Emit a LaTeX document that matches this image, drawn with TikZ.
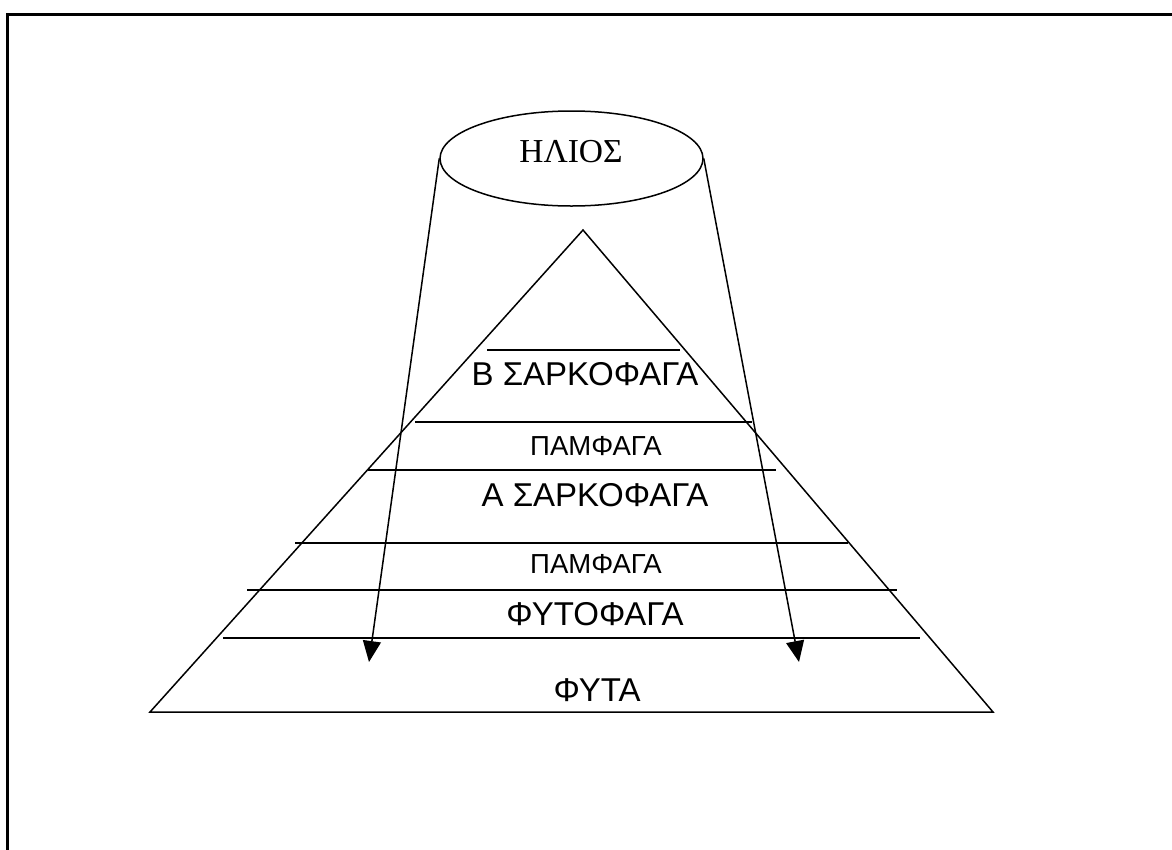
\documentclass[tikz,border=0pt]{standalone}
\usepackage{fontspec}
\setmainfont{Liberation Sans}
\newfontfamily\serifgr{Liberation Serif}
\usetikzlibrary{shapes.geometric,arrows.meta}
\tikzset{
  thin line/.style={line width=1.5pt, black},
  level line/.style={line width=1.6pt, black},
  bigtxt/.style={inner sep=0pt, font=\fontsize{33}{33}\selectfont},
  smalltxt/.style={inner sep=0pt, font=\fontsize{27.5}{27.5}\selectfont},
  ray/.style={line width=1.5pt, -{Triangle[length=21pt,width=18pt]}},
}
\begin{document}
\begin{tikzpicture}[x=1pt,y=-1pt]
\useasboundingbox (0,0) rectangle (1172,849);
\clip (0,0) rectangle (1172,849);
\fill[white] (0,0) rectangle (1172,849);
% frame
\draw[line width=2.4pt] (7.5,880) -- (7.5,14.5) -- (1200,14.5);
% pyramid
\coordinate (apex) at (583,230);
\coordinate (bl) at (150,712);
\coordinate (br) at (993,712);
\draw[thin line, line join=miter] (apex) -- (bl) -- (br) -- cycle;
% level lines
\draw[level line] (487,350) -- (680,350);
\draw[level line] (415,422) -- (752,422);
\draw[level line] (368,470) -- (776,470);
\draw[level line] (295,543) -- (848,543);
\draw[level line] (247,590) -- (897,590);
\draw[level line] (223,638) -- (920,638);
% sun
\node[ellipse, draw, line width=1.5pt, fill=white, minimum width=263pt, minimum height=95pt, inner sep=0pt] (sun) at (571.5,158.5) {};
\node[inner sep=0pt, font=\serifgr\fontsize{33.5}{33.5}\selectfont] (sunlabel) at (571,152) {ΗΛΙΟΣ};
% rays
\coordinate (tipL) at (369,662);
\coordinate (tipR) at (799,662);
\draw[ray] (sun.west) -- (tipL);
\draw[ray] (sun.east) -- (tipR);
% labels
\node[bigtxt] (bsark) at (585,374) {Β ΣΑΡΚΟΦΑΓΑ};
\node[smalltxt] (pam1) at (596,446) {ΠΑΜΦΑΓΑ};
\node[bigtxt] (asark) at (595,495) {Α ΣΑΡΚΟΦΑΓΑ};
\node[smalltxt] (pam2) at (596,564) {ΠΑΜΦΑΓΑ};
\node[bigtxt] (fytof) at (595,614) {ΦΥΤΟΦΑΓΑ};
\node[bigtxt] (fyta) at (597,690) {ΦΥΤΑ};
\end{tikzpicture}
\end{document}
